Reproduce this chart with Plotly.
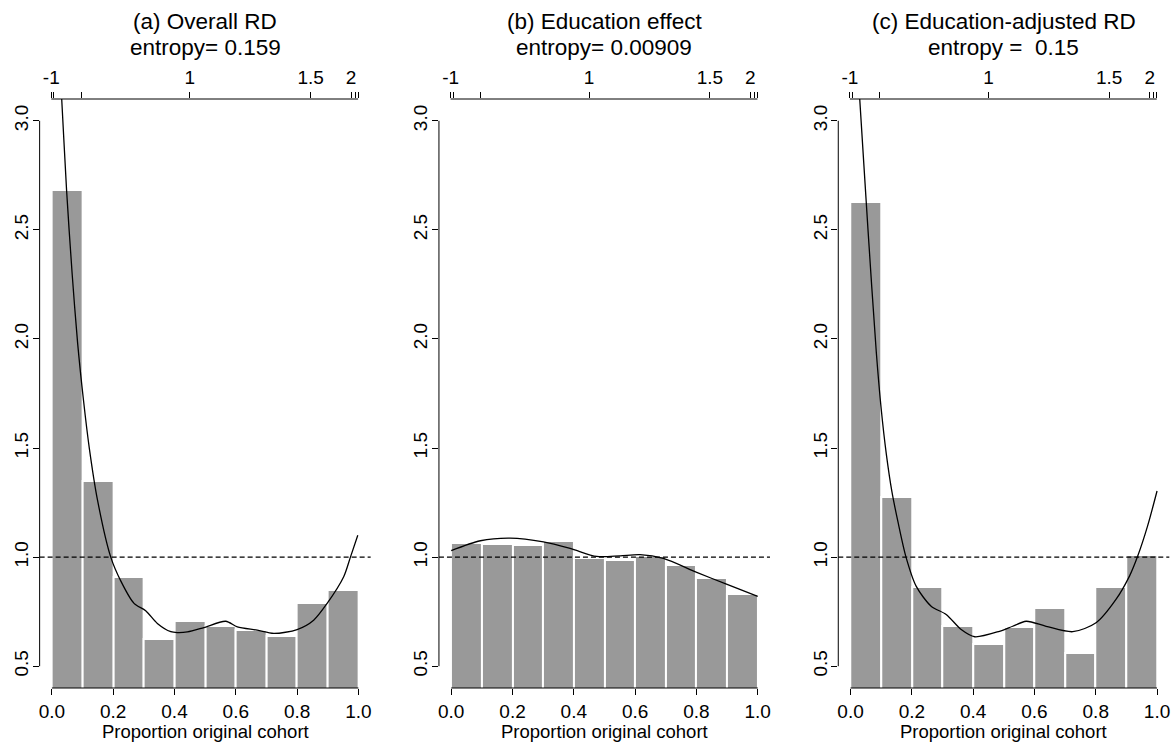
import plotly.graph_objects as go

# ---------------- data ----------------
bin_centers = [0.05, 0.15, 0.25, 0.35, 0.45, 0.55, 0.65, 0.75, 0.85, 0.95]

bars_a = [2.683, 1.35, 0.91, 0.624, 0.706, 0.683, 0.667, 0.638, 0.79, 0.849]
bars_b = [1.067, 1.058, 1.055, 1.072, 0.998, 0.988, 1.003, 0.963, 0.905, 0.829]
bars_c = [2.626, 1.274, 0.864, 0.683, 0.601, 0.679, 0.766, 0.561, 0.862, 1.008]

curve_a_x = [0.0, 0.032, 0.048, 0.066, 0.084, 0.103, 0.122, 0.149, 0.192, 0.225, 0.268,
             0.306, 0.344, 0.388, 0.409, 0.442, 0.496, 0.567, 0.605, 0.67, 0.724, 0.8,
             0.854, 0.898, 0.952, 0.974, 0.998]
curve_a_y = [3.9, 3.1, 2.68, 2.3, 1.98, 1.72, 1.5, 1.26, 1.0, 0.89, 0.788,
             0.754, 0.696, 0.658, 0.654, 0.657, 0.677, 0.706, 0.68, 0.665, 0.65, 0.668,
             0.711, 0.788, 0.91, 1.0, 1.1]

curve_b_x = [0.0, 0.095, 0.192, 0.301, 0.388, 0.475, 0.551, 0.616, 0.692, 0.801, 0.898, 1.0]
curve_b_y = [1.03, 1.075, 1.087, 1.07, 1.04, 1.003, 1.006, 1.011, 0.994, 0.93, 0.876, 0.82]

curve_c_x = [0.0, 0.03, 0.057, 0.084, 0.1, 0.117, 0.135, 0.155, 0.181, 0.214, 0.263, 0.312,
             0.361, 0.405, 0.486, 0.529, 0.573, 0.638, 0.725, 0.801, 0.866, 0.91, 0.937,
             0.969, 1.0]
curve_c_y = [3.75, 3.1, 2.5, 1.94, 1.68, 1.47, 1.3, 1.16, 1.0, 0.867, 0.775, 0.737,
             0.668, 0.635, 0.66, 0.683, 0.706, 0.683, 0.658, 0.699, 0.806, 0.913, 1.005,
             1.142, 1.303]

titles = ["(a) Overall RD", "(b) Education effect", "(c) Education-adjusted RD"]
entropy_labels = ["entropy= 0.159", "entropy= 0.00909", "entropy =  0.15"]
x_title = "Proportion original cohort"

x_tick_vals = [0.0, 0.2, 0.4, 0.6, 0.8, 1.0]
y_tick_vals = [0.5, 1.0, 1.5, 2.0, 2.5, 3.0]
top_tick_pos = [-0.002, 0.006, 0.095, 0.45, 0.844, 0.976, 0.99, 0.999]
top_tick_text = ["-1", "", "", "1", "1.5", "2", "", ""]
ref_line = 1.0

# ---------------- layout geometry ----------------
W, H = 1173, 744
FONT = "Liberation Sans, Arial, Helvetica, sans-serif"
panel_left_px = [38.7, 438.7, 838.7]
panel_w_px = 331.6
top_px, bottom_px = 99.0, 688.0
ydom = [(H - bottom_px) / H, (H - top_px) / H]

fig = go.Figure()

panels = [(bars_a, curve_a_x, curve_a_y), (bars_b, curve_b_x, curve_b_y), (bars_c, curve_c_x, curve_c_y)]
layout_axes = {}
shapes = []
annotations = []

for i, (bars, cx, cy) in enumerate(panels):
    n = i + 1
    xs = "x" if n == 1 else f"x{n}"
    ys = "y" if n == 1 else f"y{n}"
    xtop = f"x{n + 3}"
    xkey = "xaxis" if n == 1 else f"xaxis{n}"
    ykey = "yaxis" if n == 1 else f"yaxis{n}"
    topkey = f"xaxis{n + 3}"
    dom = [panel_left_px[i] / W, (panel_left_px[i] + panel_w_px) / W]

    fig.add_trace(go.Bar(
        x=bin_centers, y=bars, width=0.1, xaxis=xs, yaxis=ys,
        marker=dict(color="#999999", line=dict(color="white", width=2)),
        showlegend=False, hoverinfo="skip"))
    fig.add_trace(go.Scatter(
        x=cx, y=cy, mode="lines", xaxis=xs, yaxis=ys,
        line=dict(color="black", width=1.3, shape="spline", smoothing=0.8),
        showlegend=False, hoverinfo="skip"))
    # invisible trace to register top axis
    fig.add_trace(go.Scatter(x=[0.5], y=[None], xaxis=xtop, yaxis=ys, mode="lines",
                             showlegend=False, hoverinfo="skip"))

    layout_axes[xkey] = dict(
        domain=dom, anchor=ys, range=[-0.04, 1.04], tickvals=x_tick_vals,
        tickformat=".1f", ticks="outside", ticklen=6, tickwidth=1, tickcolor="black",
        showline=False, showgrid=False, zeroline=False,
        tickfont=dict(family=FONT, size=19, color="black"))
    layout_axes[ykey] = dict(
        domain=ydom, anchor=xs, range=[0.4, 3.1], tickvals=y_tick_vals,
        tickformat=".1f", ticks="outside", ticklen=6, tickwidth=1, tickcolor="black",
        tickangle=-90, showline=False, showgrid=False, zeroline=False,
        ticklabelstandoff=-3,
        tickfont=dict(family=FONT, size=19, color="black"))
    layout_axes[topkey] = dict(
        overlaying=xs, anchor=ys, side="top", range=[-0.04, 1.04],
        tickvals=top_tick_pos, ticktext=top_tick_text, ticks="outside", ticklen=6,
        tickwidth=1, tickcolor="black", showline=False, showgrid=False, zeroline=False,
        tickangle=0, tickfont=dict(family=FONT, size=19, color="black"))

    # axis lines (R style: span tick range only)
    shapes.append(dict(type="line", xref=f"{xs} domain", yref=ys, x0=0, x1=0,
                       y0=y_tick_vals[0], y1=y_tick_vals[-1], line=dict(color="black", width=1)))
    shapes.append(dict(type="line", xref=xs, yref=f"{ys} domain", x0=x_tick_vals[0],
                       x1=x_tick_vals[-1], y0=0, y1=0, line=dict(color="black", width=1)))
    shapes.append(dict(type="line", xref=xs, yref=f"{ys} domain", x0=top_tick_pos[0],
                       x1=top_tick_pos[-1], y0=1, y1=1, line=dict(color="black", width=1)))
    shapes.append(dict(type="line", xref=f"{xs} domain", yref=ys, x0=0, x1=1,
                       y0=ref_line, y1=ref_line, layer="above",
                       line=dict(color="black", width=1.3, dash="5px,3px")))

    annotations.append(dict(text=titles[i], xref=xs, x=0.5, yref="paper",
                            y=1 - 22 / H, yanchor="middle", xanchor="center", showarrow=False,
                            font=dict(family=FONT, size=22.5, color="black")))
    annotations.append(dict(text=entropy_labels[i], xref=xs, x=0.5, yref="paper",
                            y=1 - 47 / H, yanchor="middle", xanchor="center", showarrow=False,
                            font=dict(family=FONT, size=22.5, color="black")))
    annotations.append(dict(text=x_title, xref=xs, x=0.5, yref="paper",
                            y=1 - 731 / H, yanchor="middle", xanchor="center", showarrow=False,
                            font=dict(family=FONT, size=18.5, color="black")))

fig.update_layout(
    width=W, height=H, margin=dict(l=0, r=0, t=0, b=0),
    paper_bgcolor="white", plot_bgcolor="white", bargap=0,
    shapes=shapes, annotations=annotations, **layout_axes)

fig.write_html("out.html")
